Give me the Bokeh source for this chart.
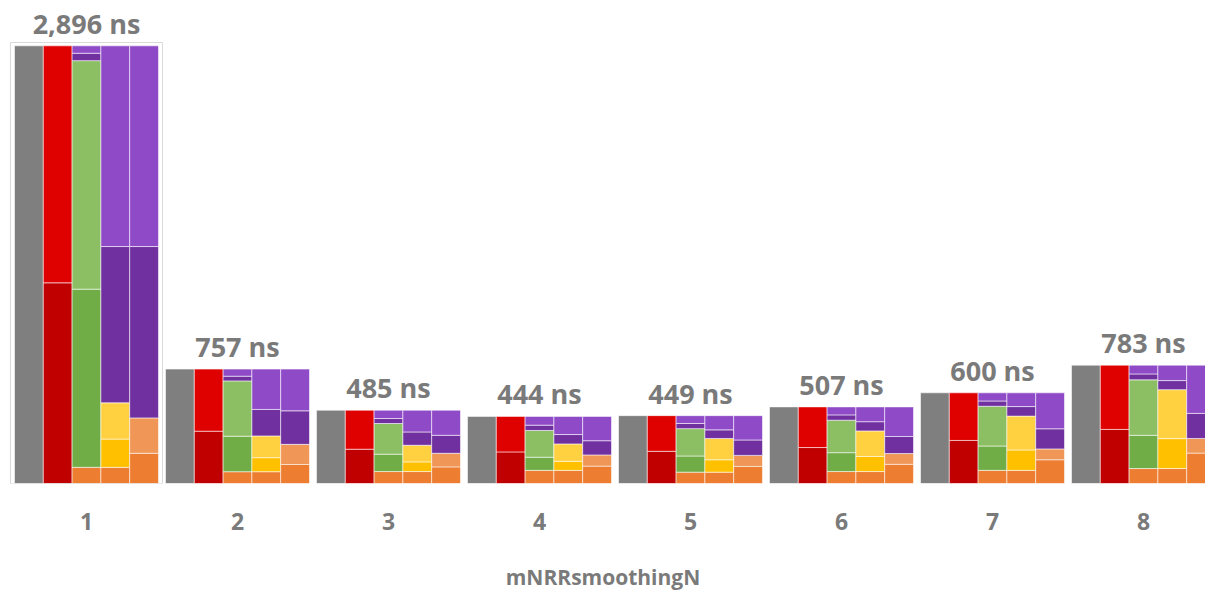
import numpy as np
from bokeh.plotting import figure
from bokeh.models import ColumnDataSource, Range1d, FixedTicker, LabelSet
from bokeh.core.properties import value
from bokeh.embed import file_html
from bokeh.resources import INLINE

# ---------------- data (ns) ----------------
groups = ["1", "2", "3", "4", "5", "6", "7", "8"]
totals = [2896, 757, 485, 444, 449, 507, 600, 783]

# column 2 (red)
red_dark = [1328, 346, 227, 209, 213, 238, 285, 358]
red_light = [1568, 411, 258, 235, 236, 269, 315, 425]

# column 3 (green)
g_orange = [107, 78, 79, 87, 75, 79, 87, 99]
g_dark = [1179, 235, 115, 87, 107, 125, 161, 220]
g_light = [1512, 366, 203, 177, 181, 215, 263, 367]
g_pdark = [49, 31, 33, 35, 34, 35, 35, 39]
g_plight = [49, 47, 55, 58, 52, 53, 54, 58]

# column 4 (yellow)
y_orange = [107, 78, 79, 87, 75, 79, 87, 99]
y_gold = [187, 93, 64, 60, 82, 100, 135, 198]
y_light = [240, 144, 110, 115, 141, 169, 224, 324]
y_pdark = [1034, 175, 88, 62, 57, 61, 63, 60]
y_plight = [1328, 267, 144, 120, 94, 98, 91, 102]

# column 5 (orange)
o_dark = [200, 126, 110, 115, 113, 127, 157, 201]
o_light = [234, 133, 90, 74, 73, 71, 72, 97]
o_pdark = [1134, 222, 119, 94, 102, 113, 133, 166]
o_plight = [1328, 276, 166, 161, 161, 196, 238, 319]

x_title = "mNRRsmoothingN"

# ---------------- colours ----------------
GRAY = "#7f7f7f"
RED_L, RED_D = "#df0000", "#c00000"
GRN_L, GRN_D = "#8cbf64", "#70ad47"
PUR_L, PUR_D = "#8f4ac7", "#7030a0"
YEL_L, YEL_D = "#ffd040", "#ffc000"
ORG_L, ORG_D = "#f09656", "#ed7d31"
TXT = "#7a7a7a"

pos = np.arange(1, len(groups) + 1, dtype=float)
w = 0.1907  # column width (group spacing = 1)

src = ColumnDataSource(dict(
    pos=pos,
    x_gray=pos - 2 * w, x_red=pos - w, x_green=pos, x_yellow=pos + w, x_orange=pos + 2 * w,
    total=totals,
    red_dark=red_dark, red_light=red_light,
    g_orange=g_orange, g_dark=g_dark, g_light=g_light, g_pdark=g_pdark, g_plight=g_plight,
    y_orange=y_orange, y_gold=y_gold, y_light=y_light, y_pdark=y_pdark, y_plight=y_plight,
    o_dark=o_dark, o_light=o_light, o_pdark=o_pdark, o_plight=o_plight,
    label=[f"{t:,} ns" for t in totals],
))

p = figure(width=1205, height=593,
           x_range=Range1d(0.4305, 8.4106), y_range=Range1d(0, 3196),
           output_backend="svg", toolbar_location=None,
           y_axis_location=None, min_border=0)
p.outline_line_color = None
p.xgrid.visible = False
p.ygrid.visible = False
p.background_fill_color = "white"

edge = dict(line_color="white", line_alpha=0.55, line_width=1)

p.vbar(x="x_gray", top="total", bottom=0, width=w, fill_color=GRAY, source=src, **edge)
p.vbar_stack(["red_dark", "red_light"], x="x_red", width=w,
             fill_color=[RED_D, RED_L], source=src, **edge)
p.vbar_stack(["g_orange", "g_dark", "g_light", "g_pdark", "g_plight"], x="x_green", width=w,
             fill_color=[ORG_D, GRN_D, GRN_L, PUR_D, PUR_L], source=src, **edge)
p.vbar_stack(["y_orange", "y_gold", "y_light", "y_pdark", "y_plight"], x="x_yellow", width=w,
             fill_color=[ORG_D, YEL_D, YEL_L, PUR_D, PUR_L], source=src, **edge)
p.vbar_stack(["o_dark", "o_light", "o_pdark", "o_plight"], x="x_orange", width=w,
             fill_color=[ORG_D, ORG_L, PUR_D, PUR_L], source=src, **edge)

# thin frame around the first group
p.quad(left=[pos[0] - 2.5 * w - 0.027], right=[pos[0] + 2.5 * w + 0.027],
       top=[totals[0] + 22], bottom=[0], fill_color=None, line_color="#d9d9d9", line_width=1)

labels = LabelSet(x="pos", y="total", text="label", source=src,
                  text_align="center", text_baseline="alphabetic", y_offset=12,
                  text_font=value("Open Sans"), text_font_style="bold",
                  text_font_size="27px", text_color=TXT)
p.add_layout(labels)

ax = p.xaxis[0]
ax.ticker = FixedTicker(ticks=list(pos))
ax.major_label_overrides = {float(x): g for x, g in zip(pos, groups)}
ax.axis_line_color = None
ax.major_tick_line_color = None
ax.minor_tick_line_color = None
ax.major_tick_out = 0
ax.major_label_standoff = 29
ax.major_label_text_font = "Open Sans"
ax.major_label_text_font_style = "bold"
ax.major_label_text_font_size = "23px"
ax.major_label_text_color = TXT
ax.axis_label = x_title
ax.axis_label_standoff = 30
ax.axis_label_text_font = "Open Sans"
ax.axis_label_text_font_style = "bold"
ax.axis_label_text_font_size = "21px"
ax.axis_label_text_color = TXT

open("out.html", "w").write(file_html(p, INLINE))
